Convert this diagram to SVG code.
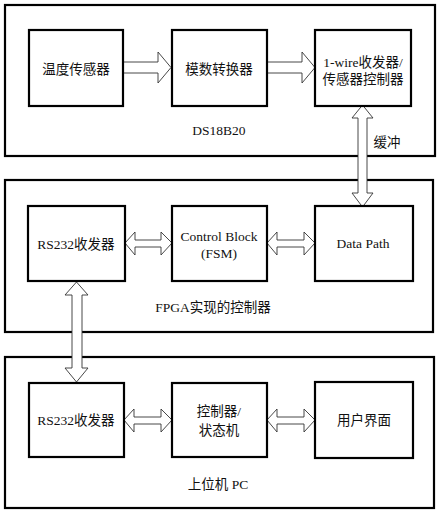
<svg xmlns="http://www.w3.org/2000/svg" width="439" height="513" viewBox="0 0 439 513">
<style>
.outer{fill:none;stroke:#000;stroke-width:2.2}
.box{fill:#fff;stroke:#000;stroke-width:2.2}
.arr{fill:#fff;stroke:#333;stroke-width:0.9;stroke-linejoin:miter}
text{font-family:"Liberation Serif","Noto Sans CJK SC",serif;font-size:13.5px;fill:#111;text-anchor:middle;dominant-baseline:central}
</style>
<rect width="439" height="513" fill="#fff"/>
<g id="ds18b20">
<rect class="outer" x="5" y="5" width="430" height="151"/>
<text x="219" y="130">DS18B20</text>
</g>
<g id="fpga">
<rect class="outer" x="5" y="180" width="428" height="152"/>
<text x="213" y="307">FPGA实现的控制器</text>
</g>
<g id="pc">
<rect class="outer" x="5" y="357" width="429" height="151"/>
<text x="218" y="484">上位机 PC</text>
</g>
<g id="connectors">
<path class="arr" d="M123,62 H158 V52 L171,67.5 L158,83 V73 H123 Z"/>
<path class="arr" d="M267,62 H302 V52 L315,67.5 L302,83 V73 H267 Z"/>
<path class="arr" d="M358,118 H352 L362.5,105 L373,118 H367 V193 H373 L362.5,207 L352,193 H358 Z"/>
<path class="arr" d="M125,243 L135,232 V240 H161 V232 L172,243 L161,255 V247 H135 V255 Z"/>
<path class="arr" d="M267,243 L277,232 V240 H304 V232 L315,243 L304,255 V247 H277 V255 Z"/>
<path class="arr" d="M72,295 H65 L76.5,282 L88,295 H82 V368 H88 L76.5,382 L65,368 H72 Z"/>
<path class="arr" d="M124,420 L134,409 V417 H161 V409 L172,420 L161,432 V424 H134 V432 Z"/>
<path class="arr" d="M267,420 L277,409 V417 H304 V409 L315,420 L304,432 V424 H277 V432 Z"/>
<text x="387" y="142">缓冲</text>
</g>
<g id="temp-sensor">
<rect class="box" x="29" y="30" width="94" height="76"/>
<text x="76" y="69">温度传感器</text>
</g>
<g id="adc">
<rect class="box" x="172" y="30" width="95" height="76"/>
<text x="219" y="69">模数转换器</text>
</g>
<g id="onewire">
<rect class="box" x="315" y="30" width="96" height="76"/>
<text x="363" y="62">1-wire收发器/</text>
<text x="363" y="79">传感器控制器</text>
</g>
<g id="rs232-fpga">
<rect class="box" x="28" y="206" width="97" height="75"/>
<text x="76" y="244">RS232收发器</text>
</g>
<g id="control-block">
<rect class="box" x="172" y="206" width="95" height="75"/>
<text x="219" y="236">Control Block</text>
<text x="219" y="253">(FSM)</text>
</g>
<g id="data-path">
<rect class="box" x="315" y="206" width="98" height="75"/>
<text x="363" y="243">Data Path</text>
</g>
<g id="rs232-pc">
<rect class="box" x="29" y="383" width="95" height="74"/>
<text x="76" y="420">RS232收发器</text>
</g>
<g id="controller-fsm">
<rect class="box" x="172" y="383" width="95" height="74"/>
<text x="219" y="411">控制器/</text>
<text x="219" y="430">状态机</text>
</g>
<g id="ui">
<rect class="box" x="315" y="382" width="98" height="76"/>
<text x="364" y="420">用户界面</text>
</g>
</svg>
